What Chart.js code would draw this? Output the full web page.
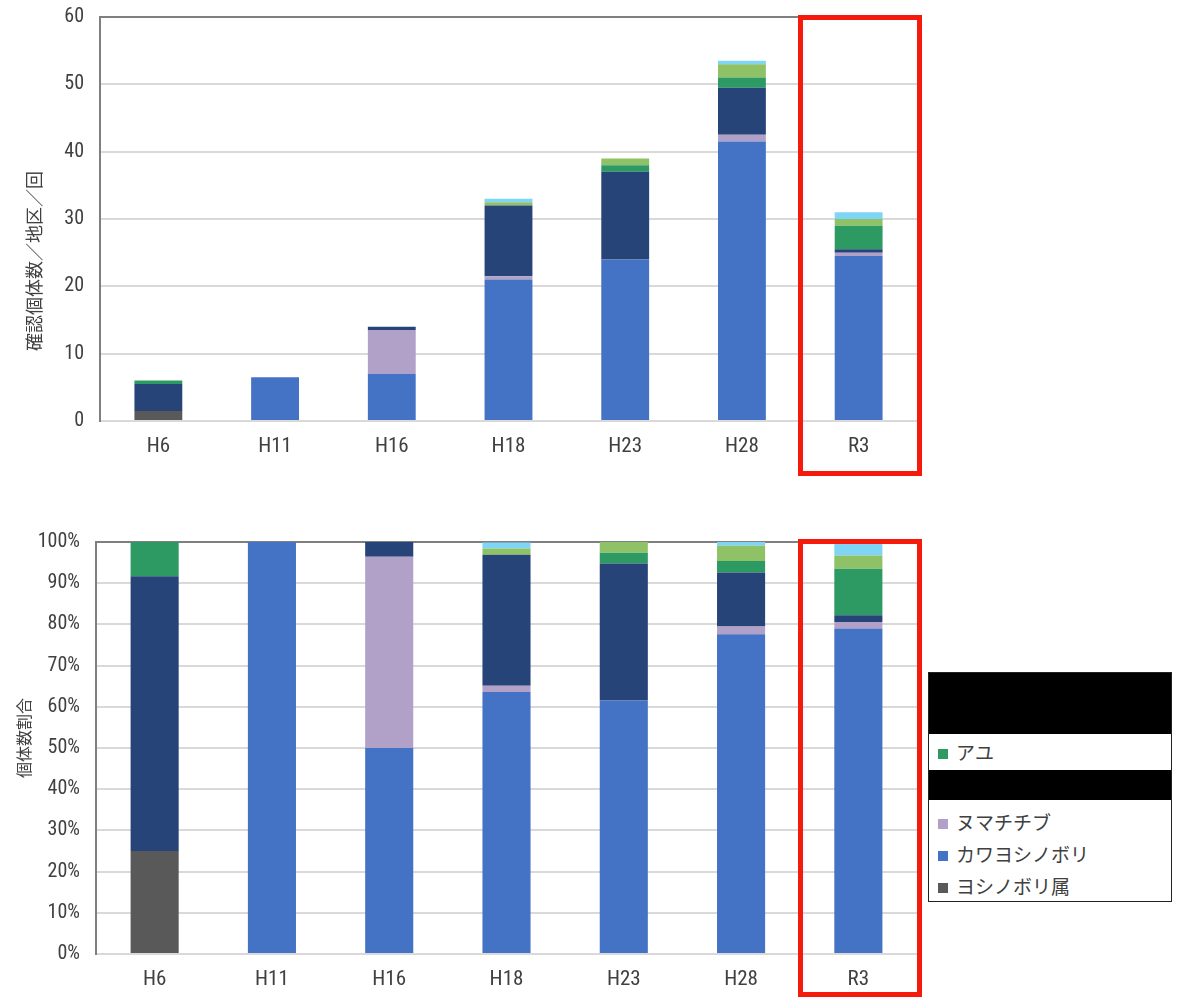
<!DOCTYPE html>
<html>
<head>
<meta charset="utf-8">
<script src="https://cdn.jsdelivr.net/npm/chart.js@4"></script>
<style>
  body { margin:0; background:#fff; width:1177px; height:999px; position:relative; overflow:hidden;
         font-family:"Noto Sans CJK JP", sans-serif; }
  #c1 { position:absolute; left:0; top:0; }
  #c2 { position:absolute; left:0; top:525px; }
  .redbox { position:absolute; border:5px solid #f51a0c; box-sizing:border-box; }
  .ytitle { position:absolute; color:#404040; white-space:nowrap; transform:translate(-50%,-50%) rotate(-90deg); }
  #legend { position:absolute; left:928px; top:672px; width:244px; height:230px; border:1.5px solid #222;
            box-sizing:border-box; background:#fff; }
  .blk { background:#000; }
  .row { height:32px; line-height:32px; font-size:19px; color:#404040; padding-left:9px; }
  .sw { display:inline-block; width:10px; height:10px; margin-right:8px; vertical-align:1px; }
</style>
</head>
<body>
<canvas id="c1" width="922" height="480"></canvas>
<canvas id="c2" width="922" height="474"></canvas>
<div class="ytitle" style="left:33px;top:261px;font-size:18px">確認個体数／地区／回</div>
<div class="ytitle" style="left:23px;top:738px;font-size:16px">個体数割合</div>
<div class="redbox" style="left:798px;top:15px;width:124px;height:461px"></div>
<div class="redbox" style="left:798px;top:539px;width:124px;height:458px"></div>
<div id="legend">
  <div class="blk" style="height:61px"></div>
  <div class="row" style="height:36px;line-height:36px"><span class="sw" style="background:#2e9a63"></span>アユ</div>
  <div class="blk" style="height:30px"></div>
  <div class="row" style="margin-top:6px"><span class="sw" style="background:#b1a0c7"></span>ヌマチチブ</div>
  <div class="row"><span class="sw" style="background:#4472c4"></span>カワヨシノボリ</div>
  <div class="row"><span class="sw" style="background:#595959"></span>ヨシノボリ属</div>
</div>
<script>
// 調査年
var years = ["H6", "H11", "H16", "H18", "H23", "H28", "R3"];

// 確認個体数/地区/回
var cntYoshinobori = [1.5, 0, 0, 0, 0, 0, 0];
var cntKawayoshi   = [0, 6.5, 7, 21, 24, 41.5, 24.5];
var cntNuma        = [0, 0, 6.5, 0.5, 0, 1, 0.5];
var cntNavy        = [4, 0, 0.5, 10.5, 13, 7, 0.5];
var cntAyu         = [0.5, 0, 0, 0, 1, 1.5, 3.5];
var cntLtGreen     = [0, 0, 0, 0.5, 1, 2, 1];
var cntLtBlue      = [0, 0, 0, 0.5, 0, 0.5, 1];

// 個体数割合 (%)
var pctYoshinobori = [25, 0, 0, 0, 0, 0, 0];
var pctKawayoshi   = [0, 100, 50, 63.6, 61.5, 77.6, 79.0];
var pctNuma        = [0, 0, 46.4, 1.5, 0, 1.9, 1.6];
var pctNavy        = [66.7, 0, 3.6, 31.8, 33.3, 13.1, 1.6];
var pctAyu         = [8.3, 0, 0, 0, 2.6, 2.8, 11.3];
var pctLtGreen     = [0, 0, 0, 1.5, 2.6, 3.7, 3.2];
var pctLtBlue      = [0, 0, 0, 1.5, 0, 0.9, 3.2];

var ticks60 = [0, 10, 20, 30, 40, 50, 60];

var colors = ["#595959", "#4472c4", "#b1a0c7", "#264478", "#2e9a63", "#8fc167", "#7fd5f5"];
var names  = ["ヨシノボリ属", "カワヨシノボリ", "ヌマチチブ", "", "アユ", "", ""];

var narrow = "'Liberation Sans Narrow', 'Roboto Condensed', sans-serif";
// tiny lineHeight so the top label does not push the plot area down
var yFont = { family: narrow, size: 20, lineHeight: 0.1 };

function makeSets(arrs) {
  var sets = [];
  for (var i = 0; i < arrs.length; i++) {
    sets.push({
      label: names[i],
      data: arrs[i],
      backgroundColor: colors[i],
      borderWidth: 0,
      barPercentage: 0.82,
      categoryPercentage: 0.5
    });
  }
  return sets;
}

function makeChart(id, sets, yOpts, pad, xHeight) {
  var ctx = document.getElementById(id).getContext('2d');
  return new Chart(ctx, {
    type: 'bar',
    data: { labels: years, datasets: sets },
    options: {
      responsive: false,
      animation: false,
      layout: { padding: pad },
      plugins: { legend: { display: false }, tooltip: { enabled: false } },
      scales: {
        x: {
          stacked: true,
          grid: { display: false, drawTicks: false },
          border: { color: '#d9d9d9', width: 2 },
          ticks: { color: '#404040', font: { family: narrow, size: 21 }, padding: 13 },
          afterFit: function (s) { s.height = xHeight; }
        },
        y: Object.assign({
          stacked: true,
          border: { color: '#7f7f7f', width: 2 },
          grid: {
            drawTicks: false,
            lineWidth: 2,
            color: function (c) { return c.index === c.chart.scales.y.ticks.length - 1 ? '#7f7f7f' : '#d9d9d9'; }
          },
          afterFit: function (s) { s.width = 100; }
        }, yOpts)
      }
    }
  });
}

makeChart('c1',
  makeSets([cntYoshinobori, cntKawayoshi, cntNuma, cntNavy, cntAyu, cntLtGreen, cntLtBlue]),
  { min: 0, max: 60,
    afterBuildTicks: function (s) { s.ticks = ticks60.map(function (v) { return { value: v }; }); },
    ticks: { color: '#404040', font: yFont, padding: 16 } },
  { top: 17, right: 5, left: 0, bottom: 0 }, 59);

makeChart('c2',
  makeSets([pctYoshinobori, pctKawayoshi, pctNuma, pctNavy, pctAyu, pctLtGreen, pctLtBlue]),
  { min: 0, max: 100,
    ticks: { stepSize: 10, color: '#404040', font: yFont, padding: 16,
             callback: function (v) { return v + '%'; } } },
  { top: 17, right: 5, left: -4, bottom: 0 }, 45);
</script>
</body>
</html>
